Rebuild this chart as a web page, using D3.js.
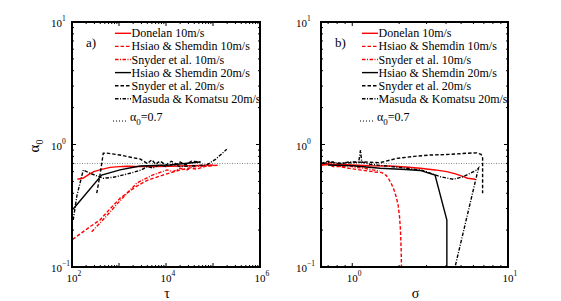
<!DOCTYPE html>
<html>
<head>
<meta charset="utf-8">
<script src="https://cdn.jsdelivr.net/npm/d3@7"></script>
<style>
body { margin: 0; background: #fff; }
text { font-family: 'Liberation Serif', 'DejaVu Serif', serif; fill: #000; }
</style>
</head>
<body>
<div id="vis"></div>
<script>
// panel a) : alpha_0 against tau
var donelanA = [[130,0.52],[170,0.53],[230,0.57],[290,0.60],[450,0.63],[650,0.65],[1000,0.66],[1500,0.665],[3000,0.66],[6000,0.66],[12000,0.665],[30000,0.67],[60000,0.675],[100000,0.68]];
var hsiao10A = [[103,0.168],[160,0.19],[250,0.215],[394,0.242],[600,0.29],[1050,0.364],[1600,0.41],[2400,0.458],[4000,0.51],[8600,0.563],[15000,0.60],[20000,0.62],[32000,0.643],[45000,0.63],[70000,0.665],[140000,0.68]];
var snyder10A = [[262,0.194],[400,0.23],[645,0.281],[1000,0.34],[1480,0.40],[2400,0.485],[5000,0.56],[10500,0.62],[14000,0.60],[20000,0.64],[28000,0.62],[35000,0.655],[53000,0.665],[80000,0.67],[105000,0.675]];
var hsiao20A = [[105,0.296],[428,0.563],[1050,0.62],[2800,0.667],[12000,0.68],[53000,0.72]];
var snyder20A = [[336,0.40],[394,0.563],[463,0.848],[556,0.85],[1050,0.82],[2000,0.78],[2800,0.762],[4000,0.70],[5000,0.75],[6000,0.69],[7450,0.733],[10000,0.68],[13000,0.73],[17000,0.69],[20000,0.72],[26000,0.68],[35000,0.73],[55000,0.72]];
var masudaA = [[106,0.242],[128,0.387],[174,0.62],[242,0.582],[463,0.53],[757,0.54],[1714,0.582],[3000,0.62],[4000,0.66],[5300,0.643],[7000,0.68],[10000,0.66],[14000,0.69],[20000,0.66],[40000,0.67],[73000,0.68],[115000,0.76],[196000,0.913]];

// panel b) : alpha_0 against sigma
var donelanB = [[0.63,0.68],[0.8,0.69],[1.0,0.68],[1.3,0.67],[1.75,0.667],[2.2,0.655],[2.73,0.64],[3.4,0.62],[4.05,0.60],[4.6,0.575],[5.17,0.546],[5.5,0.53],[6.15,0.52]];
var hsiao10B = [[0.63,0.68],[0.7,0.70],[0.75,0.66],[0.835,0.66],[0.95,0.64],[1.12,0.62],[1.4,0.597],[1.55,0.59],[1.65,0.56],[1.72,0.52],[1.78,0.48],[1.85,0.43],[1.92,0.37],[1.97,0.32],[2.01,0.26],[2.04,0.2],[2.06,0.14],[2.07,0.1]];
var snyder10B = [[0.63,0.69],[0.7,0.72],[0.78,0.68],[0.85,0.66],[0.95,0.67],[1.05,0.65],[1.2,0.64],[1.35,0.62],[1.5,0.61]];
var hsiao20B = [[0.7,0.68],[1.0,0.67],[1.51,0.64],[2.2,0.625],[2.73,0.614],[3.4,0.563],[4.05,0.242],[4.05,0.1]];
var snyder20B = [[0.63,0.70],[0.7,0.73],[0.8,0.70],[0.97,0.71],[1.2,0.72],[1.51,0.71],[1.93,0.771],[2.5,0.80],[3.16,0.82],[4.2,0.83],[5.44,0.848],[6.31,0.855],[6.72,0.83],[6.87,0.776],[6.87,0.40]];
var masudaB = [[0.65,0.70],[0.75,0.72],[0.85,0.70],[0.95,0.72],[1.1,0.72],[1.13,0.90],[1.15,0.72],[1.3,0.69],[1.6,0.67],[2.0,0.65],[2.73,0.62],[3.0,0.60],[3.66,0.546],[4.46,0.52],[5.17,0.546],[6.31,0.62],[6.46,0.64],[4.57,0.1]];

var legendNames = ['Donelan 10m/s', 'Hsiao & Shemdin 10m/s', 'Snyder et al. 10m/s',
    'Hsiao & Shemdin 20m/s', 'Snyder et al. 20m/s', 'Masuda & Komatsu 20m/s'];
var alphaRef = 0.7;

var yTicks = [0.1, 1, 10];
var yTickExp = ['\u22121', '0', '1'];
var xTicksA = [1e2, 1e4, 1e6];
var xTickExpA = ['2', '4', '6'];
var xTicksB = [1, 10];
var xTickExpB = ['0', '1'];

var styles = [
    {color: '#ff0000', dash: null},
    {color: '#ff0000', dash: '3.5,2'},
    {color: '#ff0000', dash: '3.5,1.5,1,1.5'},
    {color: '#000', dash: null},
    {color: '#000', dash: '3.5,2'},
    {color: '#000', dash: '3.5,1.5,1,1.5'}
];

var svg = d3.select('#vis')
    .append('svg')
    .attr('width', 561)
    .attr('height', 301);

var drawPanel = function(p) {
    var x = d3.scaleLog().domain(p.xDomain).range([p.left, p.right]);
    var y = d3.scaleLog().domain([0.1, 10]).range([267, 22]);
    var g = svg.append('g');

    var clipId = 'clip' + p.tag;
    g.append('clipPath').attr('id', clipId)
        .append('rect')
        .attr('x', p.left).attr('y', 22)
        .attr('width', p.right - p.left).attr('height', 245);

    // reference line
    g.append('line')
        .attr('x1', p.left).attr('x2', p.right)
        .attr('y1', y(alphaRef)).attr('y2', y(alphaRef))
        .attr('stroke', '#8c8c8c')
        .attr('stroke-width', 1)
        .attr('stroke-dasharray', '1,1.5');

    var line = d3.line()
        .x(function(d) { return x(d[0]); })
        .y(function(d) { return y(d[1]); });

    g.append('g').attr('clip-path', 'url(#' + clipId + ')')
        .selectAll('path')
        .data(p.series)
        .enter().append('path')
        .attr('d', line)
        .attr('fill', 'none')
        .attr('stroke', function(d, i) { return styles[i].color; })
        .attr('stroke-width', 1.4)
        .attr('stroke-dasharray', function(d, i) { return styles[i].dash; });

    // ticks, inward on all four sides
    var ty = y.ticks();
    var tx = x.ticks();
    var isMajor = function(v) { return Math.abs(Math.log10(v) - Math.round(Math.log10(v))) < 1e-6; };
    var tk = g.append('g').attr('stroke', '#000').attr('stroke-width', 1);
    ty.forEach(function(v) {
        var len = isMajor(v) ? 4 : 2;
        tk.append('line').attr('x1', p.left).attr('x2', p.left + len).attr('y1', y(v)).attr('y2', y(v));
        tk.append('line').attr('x1', p.right).attr('x2', p.right - len).attr('y1', y(v)).attr('y2', y(v));
    });
    tx.forEach(function(v) {
        var len = isMajor(v) ? 4 : 2;
        tk.append('line').attr('y1', 267).attr('y2', 267 - len).attr('x1', x(v)).attr('x2', x(v));
        tk.append('line').attr('y1', 22).attr('y2', 22 + len).attr('x1', x(v)).attr('x2', x(v));
    });

    g.append('rect')
        .attr('x', p.left).attr('y', 22)
        .attr('width', p.right - p.left).attr('height', 245)
        .attr('fill', 'none')
        .attr('stroke', '#000')
        .attr('stroke-width', 2);

    // y tick labels
    yTicks.forEach(function(v, i) {
        g.append('text').attr('x', p.left - p.yLabGap).attr('y', y(v) + 5)
            .attr('text-anchor', 'end').style('font-size', '11px').text('10');
        g.append('text').attr('x', p.left - p.yLabGap).attr('y', y(v) - 1)
            .style('font-size', '7.5px').text(yTickExp[i]);
    });
    // x tick labels
    p.xTicks.forEach(function(v, i) {
        g.append('text').attr('x', x(v)).attr('y', 282)
            .attr('text-anchor', 'middle').style('font-size', '11px').text('10');
        g.append('text').attr('x', x(v) + 5.5).attr('y', 276)
            .style('font-size', '7.5px').text(p.xTickExp[i]);
    });

    g.append('text')
        .attr('x', (p.left + p.right) / 2 + 1).attr('y', 298)
        .attr('text-anchor', 'middle')
        .style('font-size', '14px')
        .text(p.xLabel);

    g.append('text')
        .attr('x', p.left + 14).attr('y', 47)
        .style('font-size', '13px')
        .text(p.tag + ')');

    // legend
    var lx = p.left + p.legendOffset;
    legendNames.forEach(function(name, i) {
        var ly = 33.3 + i * 13.1;
        g.append('line')
            .attr('x1', lx).attr('x2', lx + 16)
            .attr('y1', ly).attr('y2', ly)
            .attr('stroke', styles[i].color)
            .attr('stroke-width', 1.4)
            .attr('stroke-dasharray', styles[i].dash);
        g.append('text').attr('x', lx + 16.5).attr('y', ly + 4)
            .style('font-size', '12px').text(name);
    });
    g.append('line')
        .attr('x1', lx - 2).attr('x2', lx + 13)
        .attr('y1', 121).attr('y2', 121)
        .attr('stroke', '#000')
        .attr('stroke-width', 1)
        .attr('stroke-dasharray', '1,2');
    var t = g.append('text').attr('x', lx + 15).attr('y', 121).style('font-size', '12px');
    t.append('tspan').text('\u03b1');
    t.append('tspan').attr('dy', 4).style('font-size', '9px').text('0');
    t.append('tspan').attr('dy', -4).text('=' + alphaRef);
};

drawPanel({
    tag: 'a', left: 72, right: 260, xDomain: [1e2, 1e6],
    xTicks: xTicksA, xTickExp: xTickExpA, xLabel: '\u03c4', yLabGap: 10, legendOffset: 43,
    series: [donelanA, hsiao10A, snyder10A, hsiao20A, snyder20A, masudaA]
});

drawPanel({
    tag: 'b', left: 321, right: 508, xDomain: [0.63, 10],
    xTicks: xTicksB, xTickExp: xTickExpB, xLabel: '\u03c3', yLabGap: 14, legendOffset: 41,
    series: [donelanB, hsiao10B, snyder10B, hsiao20B, snyder20B, masudaB]
});

// y axis label of panel a)
var yl = svg.append('text')
    .attr('transform', 'translate(39,146)rotate(-90)')
    .attr('text-anchor', 'middle')
    .style('font-size', '15px');
yl.append('tspan').text('\u03b1');
yl.append('tspan').attr('dy', 4).style('font-size', '10px').text('0');
</script>
</body>
</html>
